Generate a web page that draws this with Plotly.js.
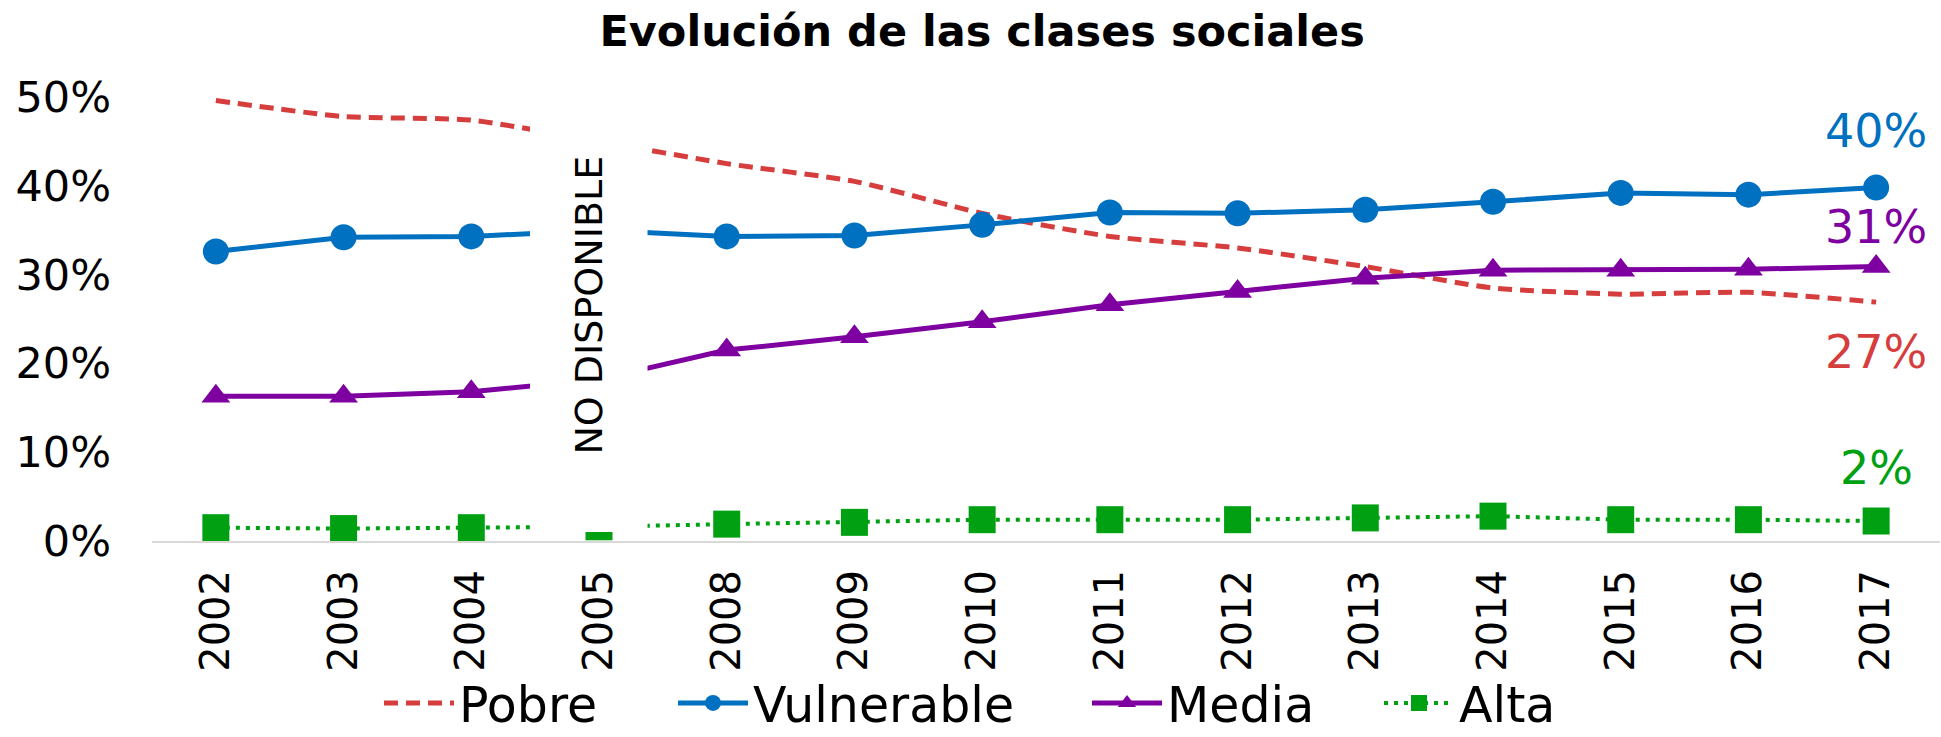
<!DOCTYPE html>
<html>
<head>
<meta charset="utf-8">
<script src="https://cdn.plot.ly/plotly-3.0.1.min.js"></script>
<style>html,body{margin:0;padding:0;background:#fff;}#chart{width:1941px;height:737px;}</style>
</head>
<body>
<div id="chart"></div>
<script>
// ---- data ----
const years = ['2002','2003','2004','2005','2008','2009','2010','2011','2012','2013','2014','2015','2016','2017'];
const pobre = [49.6, 47.8, 47.4, 45.0, 42.5, 40.5, 36.9, 34.3, 33.0, 30.9, 28.5, 27.8, 28.0, 26.9];
const vulnerable = [32.6, 34.2, 34.3, 35.0, 34.3, 34.4, 35.6, 37.0, 36.9, 37.3, 38.2, 39.2, 39.0, 39.8];
const media = [16.3, 16.3, 16.8, 18.2, 21.5, 23.0, 24.7, 26.6, 28.1, 29.6, 30.5, 30.5, 30.6, 30.9];
const alta = [1.5, 1.4, 1.5, 1.6, 1.9, 2.1, 2.4, 2.4, 2.4, 2.6, 2.8, 2.4, 2.4, 2.25];
const seriesNames = ['Pobre', 'Vulnerable', 'Media', 'Alta'];
const missingYear = '2005';
const missingText = 'NO DISPONIBLE';
const titleText = 'Evolución de las clases sociales';

const FONT = 'DejaVu Sans, sans-serif';
const colors = {Pobre:'#D63E3E', Vulnerable:'#0070C0', Media:'#7E00A0', Alta:'#00A013'};

const traces = [
  {x: years, y: pobre, name: seriesNames[0], legend: 'legend', type: 'scatter', mode: 'lines',
   line: {color: colors.Pobre, width: 5, dash: '14px,8px', shape: 'spline', smoothing: 0.6}},
  {x: years, y: vulnerable, name: seriesNames[1], legend: 'legend2', type: 'scatter', mode: 'lines+markers',
   line: {color: colors.Vulnerable, width: 5}, marker: {symbol: 'circle', size: 26, color: colors.Vulnerable}},
  {x: years, y: media, name: seriesNames[2], legend: 'legend3', type: 'scatter', mode: 'lines+markers',
   line: {color: colors.Media, width: 5}, marker: {symbol: 'triangle-up', size: 25, color: colors.Media}},
  {x: years, y: alta, name: seriesNames[3], legend: 'legend4', type: 'scatter', mode: 'lines+markers',
   line: {color: colors.Alta, width: 4, dash: '4px,6px'}, marker: {symbol: 'square', size: 27, color: colors.Alta}}
];

const lastIdx = years.length - 1;
const endSeries = [
  {vals: vulnerable, color: colors.Vulnerable, shift: 57},
  {vals: media, color: colors.Media, shift: 40},
  {vals: pobre, color: colors.Pobre, shift: -50},
  {vals: alta, color: colors.Alta, shift: 53}
];
const annotations = endSeries.map(s => ({
  x: lastIdx, y: s.vals[lastIdx], xref: 'x', yref: 'y',
  text: Math.round(s.vals[lastIdx]) + '%', showarrow: false,
  xanchor: 'center', yanchor: 'middle', yshift: s.shift,
  font: {family: FONT, size: 46, color: s.color}
}));
const mi = years.indexOf(missingYear);
annotations.push({
  x: mi - 0.08, y: 26.6, xref: 'x', yref: 'y', text: missingText, showarrow: false,
  textangle: -90, xanchor: 'center', yanchor: 'middle',
  font: {family: FONT, size: 38, color: '#000'}
});

function legendAt(px) {
  return {orientation: 'h', xref: 'container', yref: 'container', x: px / 1941, xanchor: 'left',
          y: 0.046, yanchor: 'middle', font: {family: FONT, size: 49, color: '#000'},
          itemwidth: 70, bgcolor: 'rgba(0,0,0,0)'};
}

const layout = {
  width: 1941, height: 737,
  paper_bgcolor: '#fff', plot_bgcolor: '#fff',
  margin: {l: 152, r: 1, t: 97, b: 196},
  font: {family: FONT, color: '#000'},
  title: {text: '<b>' + titleText + '</b>', font: {family: FONT, size: 43, color: '#000'},
          x: 0.506, xref: 'container', xanchor: 'center', y: 0.958, yref: 'container', yanchor: 'middle'},
  xaxis: {type: 'category', range: [-0.5, years.length - 0.5], showgrid: false, zeroline: false,
          showline: true, linecolor: '#D9D9D9', linewidth: 2, ticks: '', tickangle: -90,
          ticklabelstandoff: 11, tickfont: {family: FONT, size: 40, color: '#000'}},
  yaxis: {range: [0, 50], dtick: 10, ticksuffix: '%', showgrid: false, zeroline: false, showline: false,
          ticks: '', ticklabelstandoff: 40, tickfont: {family: FONT, size: 43, color: '#000'}},
  legend: legendAt(379),
  legend2: legendAt(673),
  legend3: legendAt(1087),
  legend4: legendAt(1379),
  shapes: [{type: 'rect', xref: 'x', yref: 'y', x0: mi - 0.54, x1: mi + 0.38, y0: 1.0, y1: 50,
            fillcolor: '#fff', line: {width: 0}, layer: 'above'}],
  annotations: annotations,
  showlegend: true
};

Plotly.newPlot('chart', traces, layout, {displayModeBar: false, staticPlot: true});
</script>
</body>
</html>
